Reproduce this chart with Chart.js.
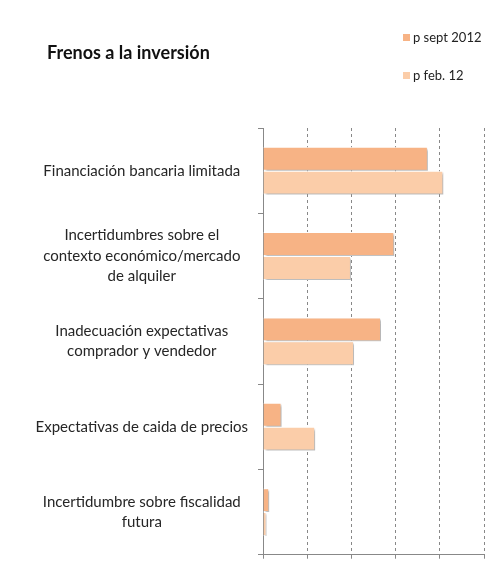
<!DOCTYPE html>
<html>
<head>
<meta charset="utf-8">
<script src="https://cdn.jsdelivr.net/npm/chart.js@4/dist/chart.umd.min.js"></script>
<style>
  html, body { margin: 0; padding: 0; background: #fff; }
  #wrap { position: relative; width: 500px; height: 575px; }
  #title { position: absolute; left: 47px; top: 41px; font: bold 18px Lato, sans-serif; color: #111; white-space: nowrap; }
  .leg { position: absolute; left: 403px; font: 13px Lato, sans-serif; color: #222; white-space: nowrap; }
  .leg span.sw { display: inline-block; width: 7px; height: 7px; margin-right: 3px; vertical-align: 1px; }
</style>
</head>
<body>
<div id="wrap">
  <canvas id="c" width="500" height="575"></canvas>
  <div id="title">Frenos a la inversión</div>
  <div class="leg" style="top:29px"><span class="sw" style="background:#F7B385"></span>p sept 2012</div>
  <div class="leg" style="top:67px"><span class="sw" style="background:#FBCDA9"></span>p feb. 12</div>
</div>
<script>
const categories = [
  "Financiación bancaria limitada",
  ["Incertidumbres sobre el", "contexto económico/mercado", "de alquiler"],
  ["Inadecuación expectativas", "comprador y vendedor"],
  "Expectativas de caida de precios",
  ["Incertidumbre sobre fiscalidad", "futura"]
];
const seriesNames = ["p sept 2012", "p feb. 12"];
const sept2012 = [37.3, 29.7, 26.7, 4.2, 1.4];
const feb12 = [40.8, 19.9, 20.6, 11.8, 0.8];
const xMin = 0, xMax = 50, xStep = 10;

const shadowPlugin = {
  id: 'barShadow',
  beforeDatasetsDraw(chart) {
    const ctx = chart.ctx;
    ctx.save();
    ctx.shadowColor = 'rgba(0,0,0,0.28)';
    ctx.shadowOffsetX = 2;
    ctx.shadowOffsetY = 2;
    ctx.shadowBlur = 2;
  },
  afterDatasetsDraw(chart) {
    chart.ctx.restore();
  }
};

new Chart(document.getElementById('c'), {
  type: 'bar',
  data: {
    labels: categories,
    datasets: [
      { label: seriesNames[0], data: sept2012, backgroundColor: '#F7B385', borderColor: '#FFFFFF', borderWidth: 1, borderSkipped: 'left' },
      { label: seriesNames[1], data: feb12, backgroundColor: '#FBCDA9', borderColor: '#FFFFFF', borderWidth: 1, borderSkipped: 'left' }
    ]
  },
  options: {
    indexAxis: 'y',
    responsive: false,
    animation: false,
    devicePixelRatio: 1,
    layout: { padding: { top: 128, right: 16, bottom: 7, left: 0 } },
    datasets: { bar: { categoryPercentage: 0.56, barPercentage: 1.0 } },
    plugins: {
      legend: { display: false },
      title: { display: false },
      tooltip: { enabled: false }
    },
    scales: {
      x: {
        min: xMin, max: xMax,
        ticks: { display: false, stepSize: xStep },
        grid: {
          color: (ctx) => ctx.index === 0 ? 'rgba(0,0,0,0)' : '#888888',
          lineWidth: 1,
          tickLength: 4,
          tickColor: '#888888'
        },
        border: { color: '#888888', dash: [3, 3] }
      },
      y: {
        afterFit(scale) { scale.width = 263; },
        ticks: {
          crossAlign: 'center',
          padding: 10,
          color: '#262626',
          font: { family: 'Lato', size: 15, lineHeight: 1.37 }
        },
        grid: {
          drawOnChartArea: false,
          offset: true,
          tickLength: 5,
          color: '#888888'
        },
        border: { color: '#888888' }
      }
    }
  },
  plugins: [shadowPlugin]
});
</script>
</body>
</html>
